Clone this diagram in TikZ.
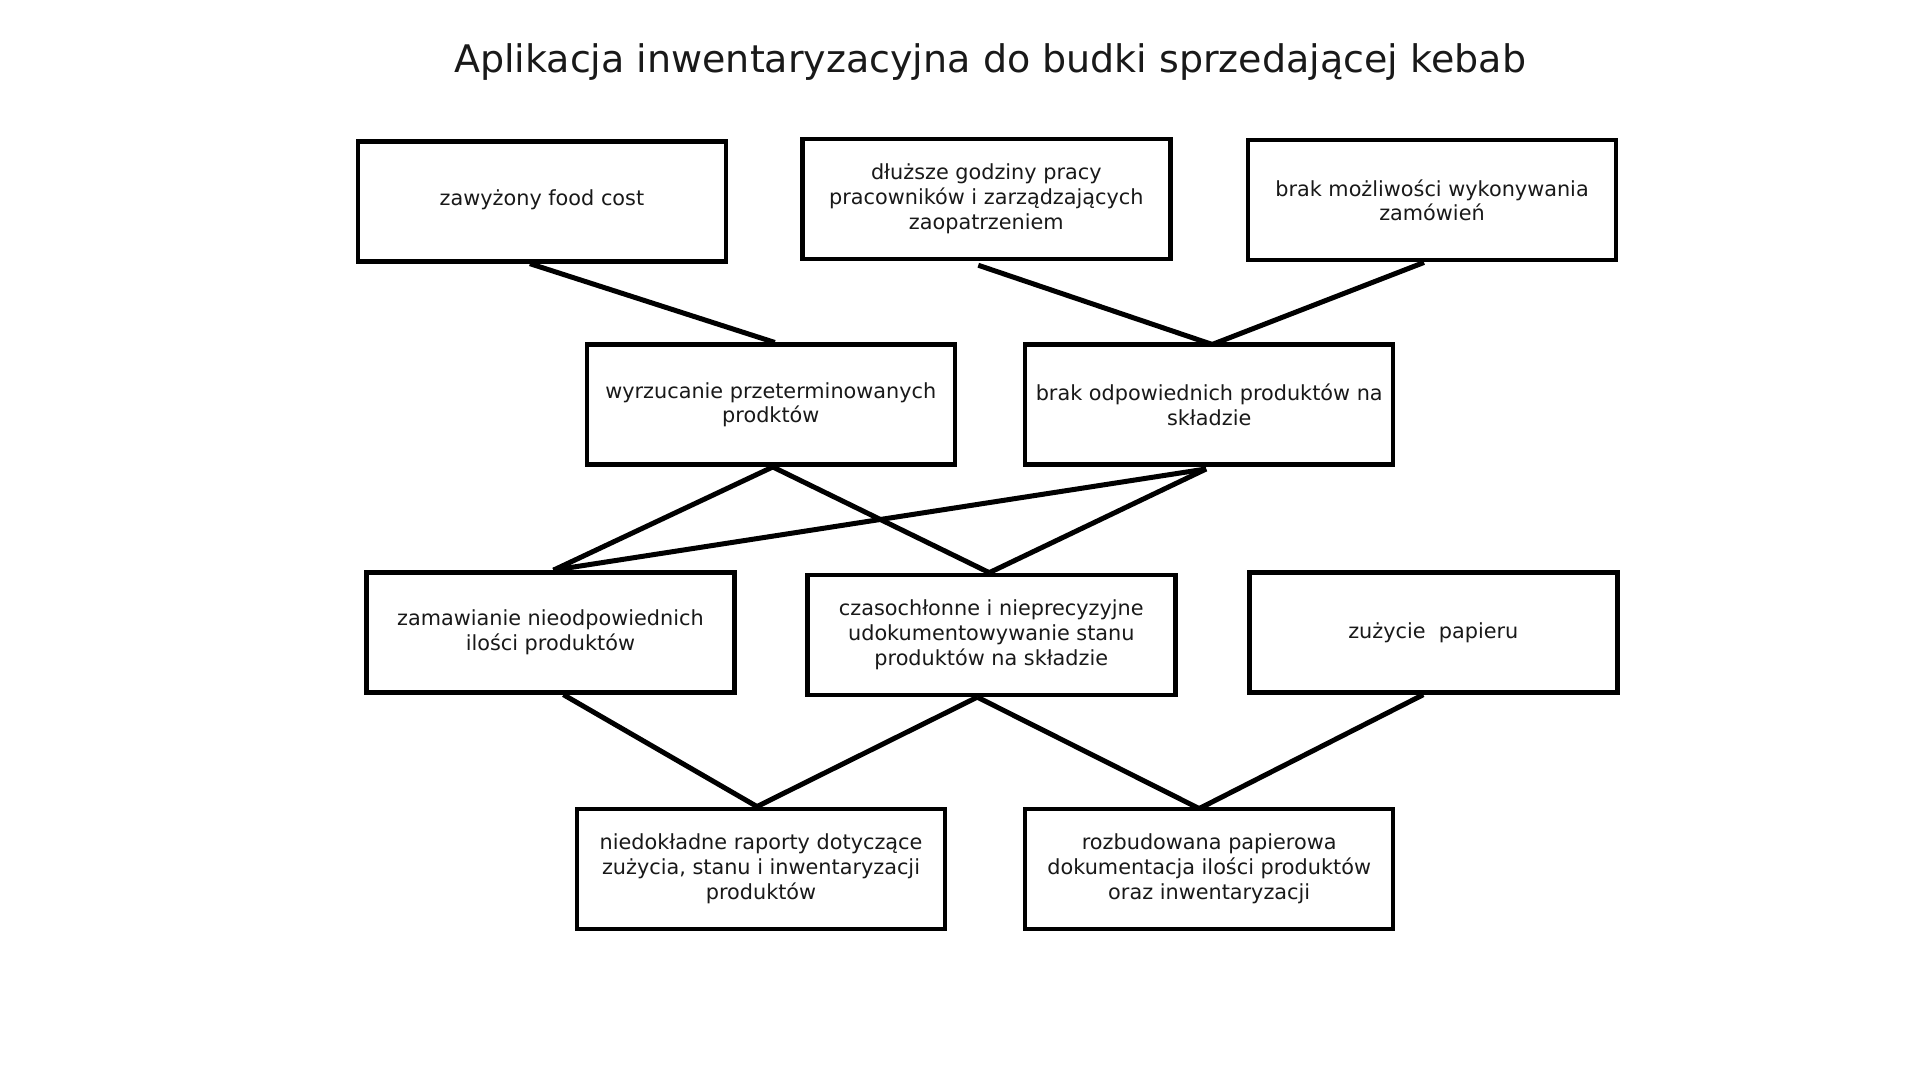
\documentclass[tikz,border=0pt]{standalone}
\usepackage{fontspec}
\setmainfont{DejaVu Sans}
\begin{document}
\begin{tikzpicture}[x=1pt,y=-1pt,
  box/.style={draw=black, line width=4.5pt, minimum width=368pt, minimum height=120pt,
    align=center, inner sep=0pt, font=\fontsize{20.8}{24.8}\selectfont, text=black!90},
  link/.style={draw=black, line width=5pt}]
\useasboundingbox[fill=white] (0,0) rectangle (1920,1080);
\node[font=\fontsize{38}{45}\selectfont, text=black!90] (title) at (990,62) {Aplikacja inwentaryzacyjna do budki sprzedającej kebab};

\node[box] (A) at (541.9,201.4) {\raisebox{7pt}{zawyżony food cost}};
\node[box] (B) at (986.3,199) {dłuższe godziny pracy\\pracowników i zarządzających\\zaopatrzeniem};
\node[box] (C) at (1432,200.2) {brak możliwości wykonywania\\zamówień};
\node[box] (D) at (770.8,404.7) {wyrzucanie przeterminowanych\\prodktów};
\node[box] (E) at (1209.2,404.7) {brak odpowiednich produktów na\\składzie};
\node[box] (F) at (550.4,632.4) {zamawianie nieodpowiednich\\ilości produktów};
\node[box] (G) at (991.3,634.9) {czasochłonne i nieprecyzyjne\\udokumentowywanie stanu\\produktów na składzie};
\node[box] (H) at (1433.3,632.4) {zużycie\ \ papieru};
\node[box] (I) at (761,868.8) {niedokładne raporty dotyczące\\zużycia, stanu i inwentaryzacji\\produktów};
\node[box] (J) at (1209.2,868.8) {rozbudowana papierowa\\dokumentacja ilości produktów\\oraz inwentaryzacji};

\draw[link] ([xshift=-12pt]A.south) -- ([xshift=4pt]D.north);
\draw[link] ([xshift=-8pt,yshift=-4pt]B.south) -- ([xshift=3pt,yshift=-2pt]E.north);
\draw[link] ([xshift=-8pt]C.south) -- ([xshift=3pt,yshift=-2pt]E.north);
\draw[link] ([xshift=2pt]D.south) -- ([xshift=3pt]F.north);
\draw[link] ([xshift=2pt]D.south) -- ([xshift=-2pt]G.north);
\draw[link] ([xshift=-3pt,yshift=-2pt]E.south) -- ([xshift=3pt]F.north);
\draw[link] ([xshift=-3pt,yshift=-2pt]E.south) -- ([xshift=-2pt]G.north);
\draw[link] ([xshift=13pt]F.south) -- ([xshift=-4pt]I.north);
\draw[link] ([xshift=-14pt]G.south) -- ([xshift=-4pt]I.north);
\draw[link] ([xshift=-14pt]G.south) -- ([xshift=-10pt,yshift=-2pt]J.north);
\draw[link] ([xshift=-10pt]H.south) -- ([xshift=-10pt,yshift=-2pt]J.north);
\end{tikzpicture}
\end{document}
